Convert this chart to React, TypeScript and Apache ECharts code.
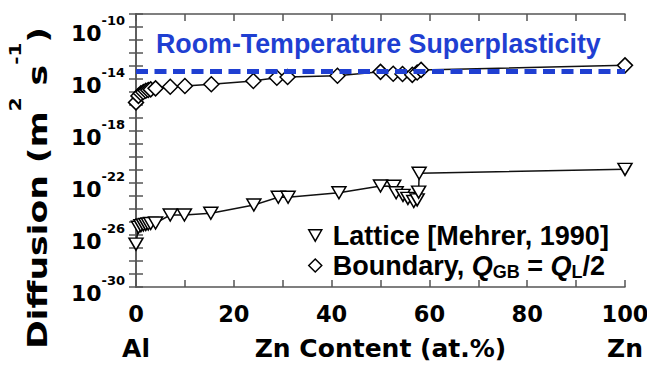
import React, { useEffect, useRef } from "react";
import * as echarts from "echarts";

// Zn content (at.%) and log10 of diffusion coefficient (m^2 s^-1)
const latticeX = [0, 0.5, 1, 1.5, 2, 2.5, 3, 4, 7, 9.9, 15.3, 24.1, 29.1, 31.1, 41.5, 50, 52.7, 53.2, 54.6, 55.6, 56.8, 57.5, 57.8, 57.9, 100];
const latticeLogD = [-26.7, -25.4, -25.28, -25.22, -25.18, -25.15, -25.12, -25.08, -24.46, -24.46, -24.33, -23.69, -23.1, -23.1, -22.75, -22.23, -22.25, -22.75, -22.95, -23.18, -23.42, -23.3, -22.7, -21.25, -20.95];

const boundaryX = [0, 0.5, 1, 1.5, 2, 2.5, 3, 4, 7, 10, 15.4, 24, 28.8, 31, 41.2, 50, 52.6, 54.5, 56.5, 57.5, 58.3, 100];
const boundaryLogD = [-15.8, -15.3, -15.1, -15.0, -14.9, -14.85, -14.8, -14.72, -14.6, -14.54, -14.4, -14.15, -13.9, -13.85, -13.75, -13.45, -13.6, -13.62, -13.68, -13.5, -13.3, -12.95];

const superplasticityLogD = -13.4;

const xTickLabels = [0, 20, 40, 60, 80, 100];
const yTickExponents = [-30, -26, -22, -18, -14, -10];

const latticeName = "Lattice [Mehrer, 1990]";
const boundaryName = "Boundary";
const titleText = "Room-Temperature Superplasticity";
const xName = "Zn Content (at.%)";

const AXIS_FONT = "DejaVu Sans";
const TEXT_FONT = "Liberation Sans";
const BLUE = "#1f3fd2";
const AXIS_COLOR = "#555";
const TRI_PATH = "path://M0,0 L12,0 L6,10.5 Z";

export default function App() {
  const ref = useRef<HTMLDivElement>(null);

  useEffect(() => {
    if (!ref.current) return;
    const chart = echarts.init(ref.current, undefined, { renderer: "svg" });

    const lattice = latticeX.map((x, i) => [x, latticeLogD[i]]);
    const boundary = boundaryX.map((x, i) => [x, boundaryLogD[i]]);

    const axisLineStyle = { color: AXIS_COLOR, width: 1.5 };

    const option: any = {
      animation: false,
      backgroundColor: "#fff",
      title: {
        text: titleText,
        left: 151,
        top: 25,
        textStyle: {
          color: BLUE,
          fontFamily: TEXT_FONT,
          fontWeight: "bold",
          fontSize: 26.8,
        },
      },
      grid: {
        left: 136,
        right: 22,
        top: 14,
        bottom: 79,
        containLabel: false,
        outerBoundsMode: "none",
      },
      legend: {
        orient: "vertical",
        left: 303,
        top: 217,
        itemWidth: 13,
        itemHeight: 13,
        itemGap: 3,
        selectedMode: false,
        data: [
          { name: latticeName, icon: TRI_PATH, itemStyle: { color: "#fff", borderColor: "#000", borderWidth: 1.5 } },
          { name: boundaryName, icon: "diamond", itemStyle: { color: "#fff", borderColor: "#000", borderWidth: 1.5 } },
        ],
        formatter: (name: string) =>
          name === latticeName
            ? "{n|" + latticeName + "}"
            : "{n|Boundary, }{q|Q}{sub|GB}{n| = }{q|Q}{sub|L}{n|/2}",
        textStyle: {
          padding: [0, 0, 0, 6],
          rich: {
            n: { fontFamily: TEXT_FONT, fontWeight: "bold", fontSize: 27, color: "#000", lineHeight: 30 },
            q: { fontFamily: TEXT_FONT, fontWeight: "bold", fontStyle: "italic", fontSize: 27, color: "#000", lineHeight: 30 },
            sub: { fontFamily: TEXT_FONT, fontWeight: "bold", fontSize: 18, color: "#000", padding: [12, 0, 0, 0] },
          },
        },
      },
      xAxis: [
        {
          type: "value",
          min: 0,
          max: 100,
          interval: 10,
          position: "bottom",
          name: xName,
          nameLocation: "middle",
          nameGap: 49,
          nameMoveOverlap: false,
          nameTextStyle: { fontFamily: AXIS_FONT, fontWeight: "bold", fontSize: 25, color: "#000" },
          axisLine: { show: true, lineStyle: axisLineStyle },
          axisTick: { show: true, inside: true, length: 7, lineStyle: axisLineStyle },
          splitLine: { show: false },
          axisLabel: {
            margin: 14,
            formatter: (v: number) => {
              if (!xTickLabels.includes(v)) return "";
              if (v === 0) return "{t|0}\n{e|Al}";
              if (v === 100) return "{t|100}\n{e|Zn}";
              return "{t|" + v + "}";
            },
            rich: {
              t: { fontFamily: AXIS_FONT, fontWeight: "bold", fontSize: 22.5, color: "#000", lineHeight: 26 },
              e: { fontFamily: AXIS_FONT, fontWeight: "bold", fontSize: 25, color: "#000", lineHeight: 42 },
            },
          },
        },
        {
          type: "value",
          min: 0,
          max: 100,
          interval: 10,
          position: "top",
          axisLine: { show: true, lineStyle: axisLineStyle },
          axisTick: { show: true, inside: true, length: 7, lineStyle: axisLineStyle },
          axisLabel: { show: false },
          splitLine: { show: false },
        },
      ],
      yAxis: [
        {
          type: "value",
          min: -30,
          max: -9,
          interval: 1,
          position: "left",
          axisLine: { show: true, lineStyle: axisLineStyle },
          axisTick: { show: true, inside: true, length: 7, lineStyle: axisLineStyle },
          splitLine: { show: false },
          axisLabel: {
            margin: 11,
            formatter: (v: number) =>
              yTickExponents.includes(v) ? "{b|10}{s|" + v + "}" : "",
            rich: {
              b: { fontFamily: AXIS_FONT, fontWeight: "bold", fontSize: 22, color: "#000", padding: [13, 0, 0, 0] },
              s: { fontFamily: AXIS_FONT, fontWeight: "bold", fontSize: 13, color: "#000", padding: [0, 0, 13, 0] },
            },
          },
        },
        {
          type: "value",
          min: -30,
          max: -9,
          interval: 1,
          position: "right",
          axisLine: { show: true, lineStyle: axisLineStyle },
          axisTick: { show: true, inside: true, length: 7, lineStyle: axisLineStyle },
          axisLabel: { show: false },
          splitLine: { show: false },
        },
      ],
      graphic: [
        {
          type: "text",
          x: 38,
          y: 188,
          rotation: Math.PI / 2,
          scaleX: 1.33,
          style: {
            text: "{a|Diffusion (m}{s|2}{a| s}{s|-1}{a|)}",
            align: "center",
            verticalAlign: "middle",
            rich: {
              a: { fontFamily: AXIS_FONT, fontWeight: "bold", fontSize: 26, fill: "#000" },
              s: { fontFamily: AXIS_FONT, fontWeight: "bold", fontSize: 15, fill: "#000", padding: [0, 0, 44, 0] },
            },
          },
        },
      ],
      series: [
        {
          name: "superplasticity",
          type: "line",
          data: [],
          z: 1,
          silent: true,
          markLine: {
            silent: true,
            symbol: ["none", "none"],
            label: { show: false },
            lineStyle: { color: BLUE, width: 5, type: [12, 6.5] },
            data: [{ yAxis: superplasticityLogD }],
          },
        },
        {
          name: latticeName,
          type: "line",
          data: lattice,
          z: 3,
          symbol: TRI_PATH,
          symbolSize: [14, 12],
          lineStyle: { color: "#111", width: 1.5 },
          itemStyle: { color: "#fff", borderColor: "#000", borderWidth: 1.5 },
        },
        {
          name: boundaryName,
          type: "line",
          data: boundary,
          z: 3,
          symbol: "diamond",
          symbolSize: [15, 15],
          lineStyle: { color: "#111", width: 1.5 },
          itemStyle: { color: "#fff", borderColor: "#000", borderWidth: 1.5 },
        },
      ],
    };

    chart.setOption(option);
    return () => chart.dispose();
  }, []);

  return (
    <div
      ref={ref}
      style={{ position: "fixed", left: 0, top: 0, width: 647, height: 366, background: "#fff" }}
    />
  );
}
